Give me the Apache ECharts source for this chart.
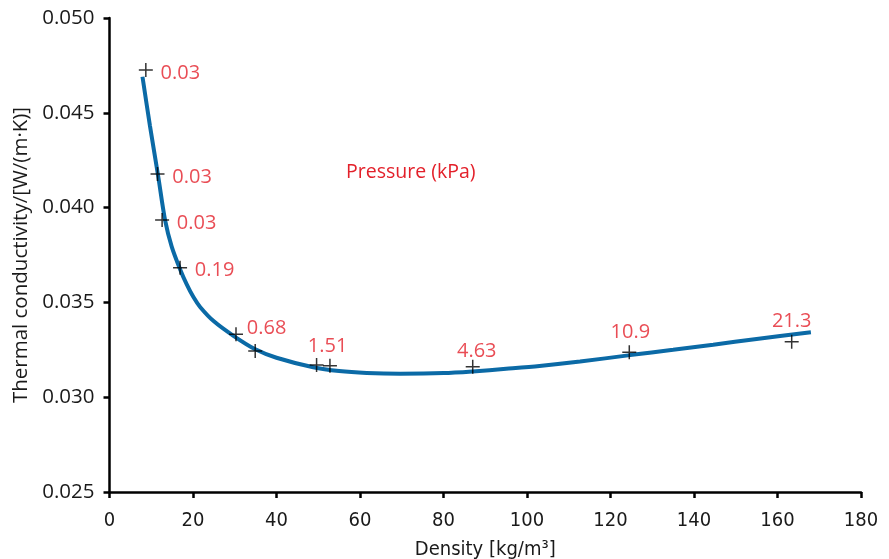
<!DOCTYPE html>
<html>
<head>
<meta charset="utf-8">
<script src="https://cdn.jsdelivr.net/npm/echarts@6/dist/echarts.min.js"></script>
<style>
  html, body { margin: 0; padding: 0; background: #fff; }
  #chart { width: 889px; height: 559px; }
</style>
</head>
<body>
<div id="chart"></div>
<script>
// measured points (density, conductivity) and their pressure labels
const density = [8.7, 11.5, 12.6, 16.9, 30.3, 34.9, 49.6, 52.8, 87.0, 124.5, 163.4];
const conductivity = [0.04726, 0.04177, 0.03935, 0.03683, 0.03332, 0.03244, 0.03170, 0.03166, 0.03161, 0.03237, 0.03293];
const pressure = ["0.03", "0.03", "0.03", "0.19", "0.68", "", "1.51", "", "4.63", "10.9", "21.3"];

// fitted curve
const curveX = [7.9, 9.7, 11.7, 13.3, 14.9, 16.9, 18.5, 20.1, 21.7, 25, 29.6, 34.8, 40, 48.8, 55, 61.6, 69.6, 80, 87, 95, 103, 112.7, 124.7, 135, 144.6, 155, 168];
const curveY = [0.0469, 0.0443, 0.0416, 0.03935, 0.03794, 0.03675, 0.03595, 0.03528, 0.03476, 0.034, 0.03325, 0.03254, 0.03208, 0.03158, 0.03138, 0.03128, 0.03124, 0.03127, 0.03136, 0.0315, 0.03165, 0.03188, 0.03222, 0.0325, 0.03277, 0.03307, 0.03342];

const xTicks = { min: 0, max: 180, interval: 20 };
const yTicks = { min: 0.025, max: 0.050, interval: 0.005 };

const red = "#e3202a";
const ink = "#1a1a1a";
const narrow = "'DejaVu Sans Condensed', 'Liberation Sans Narrow', Roboto, sans-serif";

// label placement per point
function labelFor(i) {
  if (i < 4) return { position: "right", offset: [2, 3] };
  if (i === 4) return { position: "right", offset: [-2, -6] };
  if (i === 6) return { position: "top", offset: [11, 4] };
  if (i === 8) return { position: "top", offset: [4, 7] };
  if (i === 9) return { position: "top", offset: [1, 3] };
  return { position: "top", offset: [0, 2] };
}

const chart = echarts.init(document.getElementById("chart"));

chart.setOption({
  animation: false,
  title: {
    text: "Pressure (kPa)",
    left: 341,
    top: 157,
    textStyle: { color: red, fontSize: 19.5, fontWeight: "normal", fontFamily: "Open Sans" }
  },
  grid: { left: 109.5, right: 28, top: 18, bottom: 67, outerBoundsMode: "none" },
  xAxis: {
    type: "value",
    min: xTicks.min, max: xTicks.max, interval: xTicks.interval,
    name: "Density [kg/m³]",
    nameLocation: "middle",
    nameGap: 48,
    nameTextStyle: { color: ink, fontSize: 20, fontFamily: narrow },
    axisLine: { lineStyle: { color: "#000", width: 2.5 } },
    axisTick: { length: 6, lineStyle: { color: "#000", width: 2.5 } },
    axisLabel: { color: ink, fontSize: 20, margin: 19, fontFamily: narrow },
    splitLine: { show: false }
  },
  yAxis: {
    type: "value",
    min: yTicks.min, max: yTicks.max, interval: yTicks.interval,
    name: "Thermal conductivity/[W/(m·K)]",
    nameLocation: "middle",
    nameGap: 78,
    nameTextStyle: { color: ink, fontSize: 20.5, fontFamily: "Open Sans" },
    axisLine: { show: true, lineStyle: { color: "#000", width: 2.5 } },
    axisTick: { show: true, length: 6, lineStyle: { color: "#000", width: 2.5 } },
    axisLabel: {
      color: ink, fontSize: 20.5, margin: 15, fontFamily: "Open Sans",
      formatter: v => v.toFixed(3)
    },
    splitLine: { show: false }
  },
  series: [
    {
      type: "line",
      data: curveX.map((x, i) => [x, curveY[i]]),
      smooth: 0.3,
      showSymbol: false,
      lineStyle: { color: "#0b6aa6", width: 4 },
      z: 2
    },
    {
      type: "scatter",
      symbol: "path://M0,5L10,5M5,0L5,10",
      symbolSize: 14,
      itemStyle: { color: "transparent", borderColor: "#000", borderWidth: 1.5 },
      data: density.map((x, i) => ({
        value: [x, conductivity[i]],
        label: Object.assign({
          show: pressure[i] !== "",
          formatter: pressure[i],
          color: red,
          fontSize: 20,
          fontFamily: "Open Sans"
        }, labelFor(i))
      })),
      z: 3
    }
  ]
});
</script>
</body>
</html>
